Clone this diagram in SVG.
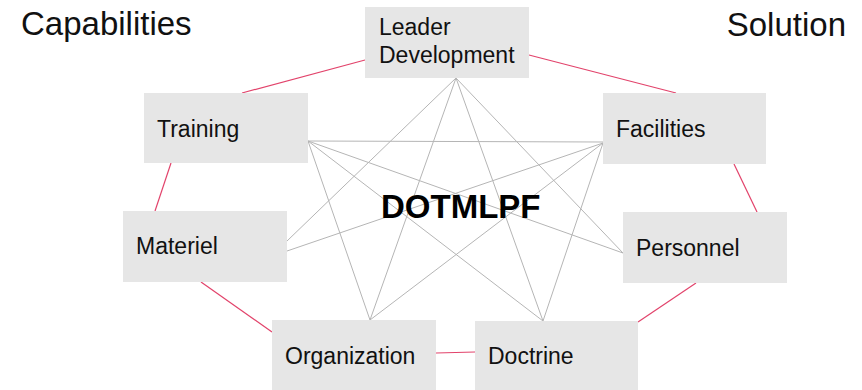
<svg xmlns="http://www.w3.org/2000/svg" width="862" height="390" viewBox="0 0 862 390">
<style>
.box{fill:#e6e6e6}
.lbl{font-family:"Liberation Sans",Arial,sans-serif;font-size:23px;fill:#111}
.title{font-family:"Liberation Sans",Arial,sans-serif;font-size:33px;fill:#111}
.center{font-family:"Liberation Sans",Arial,sans-serif;font-size:33px;font-weight:bold;fill:#000}
.ring{stroke:#e2436b;stroke-width:1.2;fill:none}
.web{stroke:#b5b5b5;stroke-width:1;fill:none}
</style>
<rect width="862" height="390" fill="#ffffff"/>
<text class="title" x="21" y="35">Capabilities</text>
<text class="title" x="846" y="36" text-anchor="end">Solution</text>
<g id="connectors">
<line class="ring" x1="242" y1="93" x2="365" y2="60"/>
<line class="ring" x1="529" y1="55" x2="676" y2="93"/>
<line class="ring" x1="734" y1="164" x2="757" y2="212"/>
<line class="ring" x1="696" y1="283" x2="638" y2="322"/>
<line class="ring" x1="436" y1="353" x2="475" y2="352"/>
<line class="ring" x1="201" y1="282" x2="272" y2="332"/>
<line class="ring" x1="171" y1="163" x2="155" y2="211"/>
<line class="web" x1="456" y1="78" x2="287" y2="241"/>
<line class="web" x1="456" y1="78" x2="370" y2="320"/>
<line class="web" x1="456" y1="78" x2="543" y2="321"/>
<line class="web" x1="456" y1="78" x2="623" y2="253"/>
<line class="web" x1="308" y1="141" x2="603" y2="142"/>
<line class="web" x1="308" y1="141" x2="623" y2="253"/>
<line class="web" x1="308" y1="141" x2="543" y2="321"/>
<line class="web" x1="308" y1="141" x2="370" y2="320"/>
<line class="web" x1="603" y1="143" x2="287" y2="251"/>
<line class="web" x1="603" y1="143" x2="370" y2="320"/>
<line class="web" x1="603" y1="143" x2="543" y2="321"/>
</g>
<text class="center" x="381" y="218">DOTMLPF</text>
<g id="leader">
<rect class="box" x="365" y="7" width="164" height="71"/>
<text class="lbl" x="379" y="35">Leader</text>
<text class="lbl" x="379" y="63">Development</text>
</g>
<g id="training">
<rect class="box" x="144" y="93" width="164" height="70"/>
<text class="lbl" x="157" y="137">Training</text>
</g>
<g id="facilities">
<rect class="box" x="603" y="93" width="163" height="71"/>
<text class="lbl" x="616" y="137">Facilities</text>
</g>
<g id="materiel">
<rect class="box" x="123" y="211" width="164" height="71"/>
<text class="lbl" x="136" y="254">Materiel</text>
</g>
<g id="personnel">
<rect class="box" x="623" y="212" width="164" height="71"/>
<text class="lbl" x="636" y="256">Personnel</text>
</g>
<g id="organization">
<rect class="box" x="272" y="320" width="164" height="71"/>
<text class="lbl" x="285" y="364">Organization</text>
</g>
<g id="doctrine">
<rect class="box" x="475" y="321" width="163" height="71"/>
<text class="lbl" x="488" y="364">Doctrine</text>
</g>
</svg>
